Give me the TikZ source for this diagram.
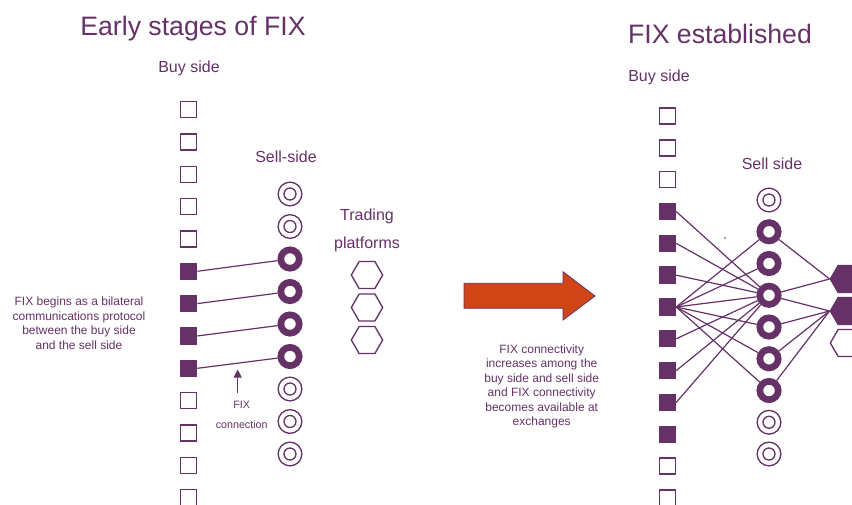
\documentclass[tikz,border=0pt]{standalone}
\usepackage{fontspec}
\setmainfont{Liberation Sans}
\usetikzlibrary{shapes.geometric,arrows.meta}
\definecolor{fixpurple}{RGB}{101,49,103}
\definecolor{fixorange}{RGB}{208,68,22}
\begin{document}
\begin{tikzpicture}[x=0.75pt,y=-0.75pt,
  txt/.style={text=fixpurple, inner sep=0},
  headline/.style={txt, font=\fontsize{20}{24}\selectfont, anchor=base},
  caption/.style={txt, font=\fontsize{12}{14}\selectfont, anchor=base},
  note/.style={txt, font=\fontsize{9}{10.9}\selectfont, align=center},
  openbox/.style={draw=fixpurple, line width=1pt, minimum size=12pt, inner sep=0, fill=white},
  fixbox/.style={openbox, fill=fixpurple},
  opencirc/.style={circle, draw=fixpurple, line width=1pt, minimum size=17.8pt, inner sep=0,
    path picture={\draw[fixpurple, line width=1pt] (path picture bounding box.center) circle (4.5pt);}},
  fixcirc/.style={circle, draw=fixpurple, line width=5pt, minimum size=13.8pt, inner sep=0, fill=white},
  venue/.style={regular polygon, regular polygon sides=6, draw=fixpurple, line width=1pt,
    minimum size=23.5pt, inner sep=0},
  fixvenue/.style={venue, fill=fixpurple},
  link/.style={draw=fixpurple, line width=0.9pt},
]
\useasboundingbox (0,0) rectangle (852,504);

% ---------- Early stages of FIX ----------
\node[headline] (t1) at (193,35) {Early stages of FIX};
\node[caption] (lbuy) at (189,72.7) {Buy side};
\node[caption] (lsell) at (286,162) {Sell-side};
\node[caption] (ltrade) at (367,220) {Trading};
\node[caption] (lplat) at (367,248) {platforms};

% buy-side firms
\foreach \k in {0,...,4,9,10,11,12}
  \node[openbox] (lb\k) at (188.7,{109.5+32.35*\k}) {};
\foreach \k in {5,...,8}
  \node[fixbox] (lb\k) at (188.7,{109.5+32.35*\k}) {};

% sell-side firms
\foreach \k in {0,1,6,7,8}
  \node[opencirc] (lc\k) at (290,{194+32.5*\k}) {};
\foreach \k in {2,...,5}
  \node[fixcirc] (lc\k) at (290,{194+32.5*\k}) {};

% trading platforms
\node[venue] (lv0) at (367,275) {};
\node[venue] (lv1) at (367,307.5) {};
\node[venue] (lv2) at (367,340) {};

% bilateral FIX connections
\draw[link] (lb5.east) -- (lc2);
\draw[link] (lb6.east) -- (lc3);
\draw[link] (lb7.east) -- (lc4);
\draw[link] (lb8.east) -- (lc5);

\coordinate (fixtail) at (237.7,393);
\coordinate (fixhead) at (237.7,369.5);
\draw[fixpurple, line width=1pt, -{Triangle[width=6pt,length=6pt]}] (fixtail) -- (fixhead);
\node[txt, font=\fontsize{8}{14.5}\selectfont, align=center] (fixlbl) at (241.7,415) {FIX\\connection};

\node[note] (lnote) at (79,323) {FIX begins as a bilateral\\communications protocol\\between the buy side\\and the sell side};

% ---------- transition ----------
\filldraw[fill=fixorange, draw=fixpurple, line width=0.6pt]
  (464,283.3) -- (563,283.3) -- (563,271.7) -- (595,296) -- (563,320) -- (563,308.3) -- (464,308.3) -- cycle;
\node[note] (rnote) at (541.7,386.3) {FIX connectivity\\increases among the\\buy side and sell side\\and FIX connectivity\\becomes available at\\exchanges};

% ---------- FIX established ----------
\node[headline] (t2) at (720,43.3) {FIX established};
\node[caption] (rbuy) at (659,81) {Buy side};
\node[caption] (rsell) at (772,169) {Sell side};

\foreach \k in {0,1,2,11,12}
  \node[openbox] (rb\k) at (667.5,{116+31.83*\k}) {};
\foreach \k in {3,...,10}
  \node[fixbox] (rb\k) at (667.5,{116+31.83*\k}) {};

\foreach \k in {0,7,8}
  \node[opencirc] (rc\k) at (769,{200+31.75*\k}) {};
\foreach \k in {1,...,6}
  \node[fixcirc] (rc\k) at (769,{200+31.75*\k}) {};

\node[fixvenue] (rv0) at (846,279) {};
\node[fixvenue] (rv1) at (846,311) {};
\node[venue] (rv2) at (846,343) {};

% buy side to sell side
\foreach \k in {3,4,5,7,8,9}
  \draw[link] (rb\k.east) -- (rc3);
\foreach \k in {1,...,6}
  \draw[link] (rb6.east) -- (rc\k);

% sell side to exchanges
\draw[link] (rc1) -- (rv0.west);
\draw[link] (rc3) -- (rv0.west);
\draw[link] (rc3) -- (rv1.west);
\foreach \k in {4,5,6}
  \draw[link] (rc\k) -- (rv1.west);

\fill[fixpurple] (725,238) circle (0.6pt);
\end{tikzpicture}
\end{document}
